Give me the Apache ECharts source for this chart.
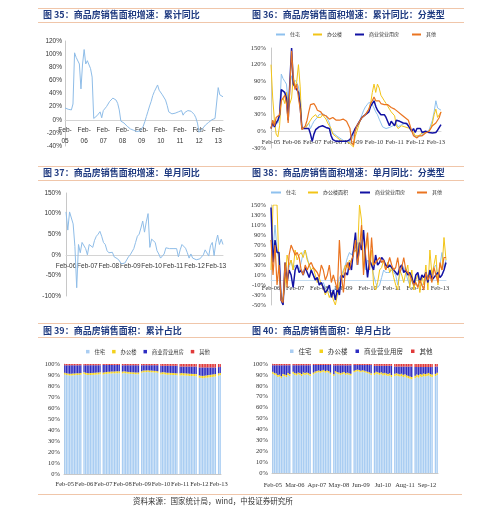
<!DOCTYPE html>
<html>
<head>
<meta charset="utf-8">
<script src="https://cdn.jsdelivr.net/npm/echarts@6/dist/echarts.min.js"></script>
<style>
  html, body { margin: 0; padding: 0; background: #fff; }
  #main { width: 499px; height: 514px; }
</style>
</head>
<body>
<div id="main"></div>
<script>
// month labels like 'Feb-05'
var MON = ['Jan','Feb','Mar','Apr','May','Jun','Jul','Aug','Sep','Oct','Nov','Dec'];
function months(year, month, count) {
  var out = [];
  for (var i = 0; i < count; i++) {
    var k = month - 1 + i;
    var y = (year + Math.floor(k / 12)) % 100;
    out.push(MON[k % 12] + '-' + (y < 10 ? '0' + y : y));
  }
  return out;
}
var cats35 = months(2005, 2, 100);
var cats36 = months(2005, 2, 100);
var cats37 = months(2006, 2, 89);
var cats38 = months(2006, 2, 88);
var cats39 = months(2005, 2, 98);
var cats40 = months(2005, 2, 98);

// 图35 累计同比 (%)
var total35 = [
  18, 21, 16, 14, 15, 24, 102, 95, 92, 85, 47, 85,
  107, 85, 90, 88, 78, 65, 2, 3, 6, 9, 12, 3,
  14, 17, 20, 24, 28, 31, 33, 32, 30, 25, 15, -2,
  -3, -5, -8, -10, -12, -14, -15, -16, -17, -18, -18, -17,
  -15, -10, -3, 5, 13, 21, 28, 37, 43, 46, 53, 45,
  42, 38, 35, 30, 22, 12, 9, 9, 10, 10, 11, 12,
  13, 14, 7, 11, 13, 14, 14, 13, 10, 8, 3, -5,
  -19, -16, -14, -11, -8, -6, -4, -2, 0, 1, 2, 3,
  49, 38, 36, 35
];

// 图36 累计同比 分类型 (%)
var res36 = [
  6, 20, 15, 14, 15, 30, 103, 95, 90, 85, 50, 85,
  100, 85, 92, 88, 80, 60, 3, 5, 8, 10, 15, 5,
  12, 18, 20, 25, 30, 33, 32, 30, 28, 25, 15, 0,
  -3, -5, -8, -10, -12, -14, -16, -18, -19, -20, -18, -15,
  -12, 0, 8, 15, 22, 30, 38, 44, 48, 52, 55, 48,
  42, 35, 30, 22, 15, 8, 5, 5, 6, 7, 8, 10,
  12, 14, 8, 10, 12, 14, 14, 12, 10, 6, 0, -5,
  -10, -12, -10, -8, -6, -4, -2, 0, 2, 5, 20, 35,
  55, 42, 40, 38
];
var off36 = [
  120, 60, 20, -5, -10, 10, 55, 60, 50, 70, 40, 50,
  60, 100, 80, 90, 120, 80, 5, 2, 5, 8, 15, 20,
  25, 28, 30, 25, 22, 25, 30, 28, 22, 15, 12, 5,
  -5, -8, -10, -12, -15, -15, -18, -20, -18, -20, -22, -25,
  -28, -10, 0, 10, 20, 25, 28, 30, 32, 40, 50, 70,
  85, 70, 85, 78, 65, 60, 55, 50, 45, 40, 35, 32,
  28, 10, 5, 8, 10, 12, 8, 5, 6, 4, 2, -2,
  -8, -10, -8, -5, -3, -4, -2, -3, 0, 5, 15, 30,
  40, 25, 30, 35
];
var com36 = [
  5, 15, 8, 15, 20, 30, 75, 72, 70, 60, 20, 90,
  150, 85, 80, 75, 70, 45, 5, 3, 5, 8, 5, -5,
  -18, -5, 3, 5, 8, 10, 10, 8, 7, 5, 5, -8,
  -15, -18, -18, -16, -18, -20, -18, -17, -18, -20, -15, -8,
  -2, 5, 10, 15, 20, 25, 28, 30, 32, 35, 45, 50,
  55, 45, 38, 35, 30, 28, 30, 25, 22, 10, 18, 15,
  10, 20, 18, 18, 17, 15, 12, 14, 10, 5, 0, 5,
  -2, 5, 3, 5, -2, -3, 0, -3, -2, 0, -3, 0,
  -2, 2, 5, 12
];
var oth36 = [
  5, 20, 10, 25, 25, 30, 55, 60, 65, 50, 15, 80,
  145, 95, 75, 85, 60, 40, 3, 5, 10, 20, 35, 48,
  50, 50, 45, 38, 35, 35, 30, 28, 28, 25, 22, 20,
  25, 22, 20, 18, 20, 18, 22, 20, 18, 15, 5, -20,
  -25, 0, 10, 15, 20, 25, 28, 30, 35, 40, 50, 55,
  62, 55, 58, 55, 50, 50, 48, 45, 48, 45, 43, 40,
  40, 38, 35, 35, 30, 30, 25, 22, 20, 10, 0, -8,
  -10, -12, -8, -5, -8, -5, -3, -2, 0, 5, 10, 12,
  15, 20, 25, 35
];

// 图37 单月同比 (%)
var total37 = [
  104, 60, 104, 100, 75, 20, -80, 25, 5, 30, 28, 15,
  0, 25, 22, 18, 35, 45, 50, 57, 45, 30, 25, 10,
  5, 2, 6, -5, -3, -10, -15, -22, -25, -20, -18, -5,
  0, 3, 15, 30, 45, 50, 65, 82, 55, 80, 100, 18,
  38, 35, 30, 10, 2, -8, -12, 2, 17, 16, 15, 15,
  15, 14, 15, -5, 12, 25, 22, 16, 5, -8, 2, -8,
  -12, -12, -12, -10, -8, 0, 12, 10, -3, 22, 30, -2,
  30, 48, 25, 38, 25
];

// 图38 单月同比 分类型 (%)
var res38 = [
  80, 60, 110, 60, 40, -30, -45, 20, 5, 25, 40, 20,
  30, 25, 20, 35, 55, 60, 45, 30, 20, 10, 5, 0,
  -5, -10, -5, -15, -20, -25, -20, -25, -15, -10, 5, 10,
  20, 30, 45, 55, 50, 60, 65, 75, 60, 80, 100, 20,
  40, 35, 30, 10, -5, -15, -10, 5, 20, 15, 15, 15,
  20, 15, 10, -10, 10, 30, 25, 15, 0, -10, 0, -5,
  -10, -10, -12, -10, -5, 0, 10, 15, 0, 25, 30, 5,
  30, 55, 25, 40
];
var off38 = [
  20, 150, 150, 150, 20, -30, -40, -10, 50, 30, 40, 20,
  60, 40, 50, 55, 45, 60, 40, 30, 20, 25, 10, -5,
  5, -10, -15, -30, -20, -35, -25, -40, -50, -30, -5, 0,
  15, 30, 25, 40, 35, 55, 60, 50, 150, 120, 20, 60,
  85, 30, 60, -10, -20, -5, 20, 25, 40, 20, 35, 15,
  25, 5, -10, -20, 20, 10, -5, 15, 30, -15, 20, -20,
  0, 10, -25, 10, -10, 30, -20, 60, 10, 30, 50, -10,
  30, 20, 85, 40
];
var com38 = [
  145, 35, 80, 55, 55, -40, -50, 35, -5, 20, 10, -15,
  20, 30, 15, 20, 10, 25, 15, 5, 20, 10, 0, 5,
  -10, -5, -15, -25, -20, -10, -35, -20, -40, -15, -30, 10,
  5, 15, 10, 35, 20, 60, 95, 30, 75, 60, 100, 45,
  5, 40, 30, 20, 50, 30, 35, 45, 40, 30, 25, 30,
  25, 20, 15, 10, 25, 30, 15, 20, 10, 15, 5, -10,
  10, 15, -5, 10, 5, 15, -5, 20, 0, 5, 10, 15,
  5, 10, 20, 35
];
var oth38 = [
  80, 10, 70, -10, 30, -40, -45, 35, -15, 50, 70, 60,
  50, 55, 45, 20, 10, 30, 20, 30, 35, 25, 20, 15,
  5, 30, 20, 0, 10, 30, -5, 10, -5, -20, 80, 10,
  -25, 20, 35, 20, 40, 50, 80, 30, 60, 110, 10, 65,
  95, 20, 85, 30, 35, 40, 45, 35, 40, 20, 30, 45,
  30, 20, 25, 45, 15, 25, 45, 20, 15, 10, 0, -10,
  -5, -15, 0, -10, -20, 15, 0, 10, -5, 25, 10, -5,
  35, 20, 45, 45
];

// 图39 累计占比 (%), January has no data
var res39 = [
  90.5, 90.0, 89.8, 89.6, 89.6, 89.7, 89.8, 89.9, 90.0, 90.1, 90.3, null,
  90.8, 90.3, 90.0, 89.9, 90.0, 90.1, 90.2, 90.3, 90.4, 90.5, 90.6, null,
  90.5, 90.8, 91.0, 91.2, 91.3, 91.4, 91.5, 91.5, 91.6, 91.6, 91.7, null,
  91.5, 91.8, 91.5, 91.3, 91.2, 91.0, 90.9, 90.8, 90.7, 90.7, 90.7, null,
  92.0, 92.5, 92.6, 92.7, 92.8, 92.6, 92.5, 92.4, 92.3, 92.2, 92.0, null,
  90.5, 90.8, 90.6, 90.5, 90.3, 90.2, 90.1, 90.0, 90.0, 89.9, 89.8, null,
  89.5, 89.8, 89.6, 89.5, 89.4, 89.3, 89.2, 89.1, 89.0, 89.0, 88.9, null,
  87.5, 87.2, 87.0, 87.2, 87.4, 87.6, 87.8, 88.0, 88.2, 88.4, 88.6, null,
  89.5, 89.8
];
var off39 = [
  1.6, 1.6, 1.6, 1.6, 1.6, 1.6, 1.6, 1.6, 1.6, 1.6, 1.6, null,
  1.8, 1.8, 1.8, 1.8, 1.8, 1.8, 1.8, 1.8, 1.8, 1.8, 1.8, null,
  1.7, 1.7, 1.7, 1.7, 1.7, 1.7, 1.7, 1.7, 1.7, 1.7, 1.7, null,
  1.6, 1.6, 1.6, 1.6, 1.6, 1.6, 1.6, 1.6, 1.6, 1.6, 1.6, null,
  1.5, 1.5, 1.5, 1.5, 1.5, 1.5, 1.5, 1.5, 1.5, 1.5, 1.5, null,
  1.8, 1.8, 1.8, 1.8, 1.8, 1.8, 1.8, 1.8, 1.8, 1.8, 1.8, null,
  2.0, 2.0, 2.0, 2.0, 2.0, 2.0, 2.0, 2.0, 2.0, 2.0, 2.0, null,
  2.2, 2.2, 2.2, 2.2, 2.2, 2.2, 2.2, 2.2, 2.2, 2.2, 2.2, null,
  2.0, 2.0
];
var com39 = [
  6.8, 7.2, 7.4, 7.6, 7.6, 7.5, 7.4, 7.3, 7.2, 7.1, 6.9, null,
  6.3, 6.8, 7.1, 7.2, 7.1, 7.0, 6.9, 6.8, 6.7, 6.6, 6.5, null,
  6.8, 6.5, 6.3, 6.1, 6.0, 5.9, 5.8, 5.8, 5.7, 5.7, 5.6, null,
  5.7, 5.4, 5.7, 5.9, 6.0, 6.2, 6.3, 6.4, 6.5, 6.5, 6.5, null,
  5.4, 4.9, 4.8, 4.7, 4.6, 4.8, 4.9, 5.0, 5.1, 5.2, 5.4, null,
  6.0, 5.7, 5.9, 6.0, 6.2, 6.3, 6.4, 6.5, 6.5, 6.6, 6.7, null,
  6.2, 5.9, 6.1, 6.2, 6.3, 6.4, 6.5, 6.6, 6.7, 6.7, 6.8, null,
  7.2, 7.5, 7.7, 7.5, 7.3, 7.1, 6.9, 6.7, 6.5, 6.3, 6.1, null,
  5.7, 5.4
];
var oth39 = [
  1.3, 1.3, 1.3, 1.3, 1.3, 1.3, 1.3, 1.3, 1.3, 1.3, 1.3, null,
  1.2, 1.2, 1.2, 1.2, 1.2, 1.2, 1.2, 1.2, 1.2, 1.2, 1.2, null,
  1.1, 1.1, 1.1, 1.1, 1.1, 1.1, 1.1, 1.1, 1.1, 1.1, 1.1, null,
  1.3, 1.3, 1.3, 1.3, 1.3, 1.3, 1.3, 1.3, 1.3, 1.3, 1.3, null,
  1.2, 1.2, 1.2, 1.2, 1.2, 1.2, 1.2, 1.2, 1.2, 1.2, 1.2, null,
  1.8, 1.8, 1.8, 1.8, 1.8, 1.8, 1.8, 1.8, 1.8, 1.8, 1.8, null,
  2.4, 2.4, 2.4, 2.4, 2.4, 2.4, 2.4, 2.4, 2.4, 2.4, 2.4, null,
  3.2, 3.2, 3.2, 3.2, 3.2, 3.2, 3.2, 3.2, 3.2, 3.2, 3.2, null,
  2.9, 2.9
];

// 图40 单月占比 (%)
var res40 = [
  91.0, 90.0, 89.5, 88.0, 88.5, 87.0, 89.0, 88.5, 88.0, 90.0, 89.0, null,
  91.0, 90.0, 89.5, 90.5, 90.0, 89.0, 90.5, 90.0, 90.5, 90.0, 89.0, null,
  90.5, 91.5, 92.0, 92.5, 92.0, 92.5, 93.0, 92.0, 92.5, 92.0, 90.5, null,
  89.0, 92.0, 91.0, 90.5, 90.0, 90.5, 91.0, 90.0, 90.5, 90.0, 89.5, null,
  92.5, 93.0, 93.5, 93.0, 92.5, 93.0, 92.5, 92.0, 91.5, 91.0, 90.0, null,
  90.0, 91.0, 90.5, 90.0, 90.5, 89.5, 90.0, 89.5, 89.0, 89.5, 88.0, null,
  89.0, 89.5, 89.0, 88.5, 89.0, 88.0, 88.5, 87.5, 87.0, 86.5, 86.0, null,
  87.0, 88.0, 87.5, 88.5, 88.0, 89.0, 88.5, 89.0, 89.5, 88.5, 88.0, null,
  89.0, 90.0
];
var off40 = [
  1.8, 1.8, 1.8, 1.8, 1.8, 1.8, 1.8, 1.8, 1.8, 1.8, 1.8, null,
  1.8, 1.8, 1.8, 1.8, 1.8, 1.8, 1.8, 1.8, 1.8, 1.8, 1.8, null,
  1.6, 1.6, 1.6, 1.6, 1.6, 1.6, 1.6, 1.6, 1.6, 1.6, 1.6, null,
  1.6, 1.6, 1.6, 1.6, 1.6, 1.6, 1.6, 1.6, 1.6, 1.6, 1.6, null,
  1.4, 1.4, 1.4, 1.4, 1.4, 1.4, 1.4, 1.4, 1.4, 1.4, 1.4, null,
  1.9, 1.9, 1.9, 1.9, 1.9, 1.9, 1.9, 1.9, 1.9, 1.9, 1.9, null,
  2.1, 2.1, 2.1, 2.1, 2.1, 2.1, 2.1, 2.1, 2.1, 2.1, 2.1, null,
  2.3, 2.3, 2.3, 2.3, 2.3, 2.3, 2.3, 2.3, 2.3, 2.3, 2.3, null,
  2.0, 2.0
];
var com40 = [
  6.0, 7.0, 7.5, 9.0, 8.5, 10.0, 8.0, 8.5, 9.0, 7.0, 8.0, null,
  6.1, 7.1, 7.6, 6.6, 7.1, 8.1, 6.6, 7.1, 6.6, 7.1, 8.1, null,
  7.0, 6.0, 5.5, 5.0, 5.5, 5.0, 4.5, 5.5, 5.0, 5.5, 7.0, null,
  8.2, 5.2, 6.2, 6.7, 7.2, 6.7, 6.2, 7.2, 6.7, 7.2, 7.7, null,
  5.1, 4.6, 4.1, 4.6, 5.1, 4.6, 5.1, 5.6, 6.1, 6.6, 7.6, null,
  6.4, 5.4, 5.9, 6.4, 5.9, 6.9, 6.4, 6.9, 7.4, 6.9, 8.4, null,
  6.5, 6.0, 6.5, 7.0, 6.5, 7.5, 7.0, 8.0, 8.5, 9.0, 9.5, null,
  7.9, 6.9, 7.4, 6.4, 6.9, 5.9, 6.4, 5.9, 5.4, 6.4, 6.9, null,
  6.6, 5.6
];
var oth40 = [
  1.4, 1.4, 1.4, 1.4, 1.4, 1.4, 1.4, 1.4, 1.4, 1.4, 1.4, null,
  1.3, 1.3, 1.3, 1.3, 1.3, 1.3, 1.3, 1.3, 1.3, 1.3, 1.3, null,
  1.1, 1.1, 1.1, 1.1, 1.1, 1.1, 1.1, 1.1, 1.1, 1.1, 1.1, null,
  1.4, 1.4, 1.4, 1.4, 1.4, 1.4, 1.4, 1.4, 1.4, 1.4, 1.4, null,
  1.2, 1.2, 1.2, 1.2, 1.2, 1.2, 1.2, 1.2, 1.2, 1.2, 1.2, null,
  1.9, 1.9, 1.9, 1.9, 1.9, 1.9, 1.9, 1.9, 1.9, 1.9, 1.9, null,
  2.6, 2.6, 2.6, 2.6, 2.6, 2.6, 2.6, 2.6, 2.6, 2.6, 2.6, null,
  3.0, 3.0, 3.0, 3.0, 3.0, 3.0, 3.0, 3.0, 3.0, 3.0, 3.0, null,
  2.6, 2.6
];

var titles = [
  '图 35：商品房销售面积增速：累计同比',
  '图 36：商品房销售面积增速：累计同比：分类型',
  '图 37：商品房销售面积增速：单月同比',
  '图 38：商品房销售面积增速：单月同比：分类型',
  '图 39：商品房销售面积：累计占比',
  '图 40：商品房销售面积：单月占比'
];
var source = '资料来源：国家统计局，wind，中投证券研究所';

var C_LINE = '#8fbde8';
var C_RES = '#8ec1ee', C_OFF = '#f2c417', C_COM = '#1212a3', C_OTH = '#ea7421';
var B_RES = '#a9cdf2', B_OFF = '#f3d11c', B_COM = '#2d2dc2', B_OTH = '#e03a3a';
var SANS = 'Liberation Sans', SERIF = 'Liberation Serif', CJK = 'Noto Sans CJK SC';
var RULE = '#f0c6aa';

var grids = [
  { left: 65, top: 41, width: 158, height: 105 },
  { left: 271, top: 48, width: 170, height: 100 },
  { left: 66, top: 193, width: 157, height: 103 },
  { left: 271, top: 205, width: 175, height: 100 },
  { left: 64, top: 364, width: 157, height: 110 },
  { left: 272, top: 364, width: 166, height: 109 }
];
// y ranges [min, max, interval]
var yRanges = [[-40, 120, 20], [-30, 150, 30], [-100, 150, 50], [-50, 150, 20], [0, 100, 10], [0, 100, 10]];

function xCat(grid, data, font, interval, margin, gap, lineColor) {
  // put the category axis on the 0% line of its grid
  var r = yRanges[grid];
  var lift = grids[grid].height * (0 - r[0]) / (r[1] - r[0]);
  return {
    type: 'category', gridIndex: grid, data: data, boundaryGap: gap,
    position: 'bottom', offset: -lift,
    axisLine: { onZero: false, lineStyle: { color: lineColor, width: 1 } },
    axisTick: { show: false },
    axisLabel: { interval: interval, fontSize: 6.5, fontFamily: font, color: '#333', margin: margin }
  };
}
function yVal(grid, font, margin) {
  var r = yRanges[grid];
  return {
    type: 'value', gridIndex: grid, min: r[0], max: r[1], interval: r[2],
    splitLine: { show: false },
    axisLine: { show: true, lineStyle: { color: '#c8c8c8' } },
    axisTick: { show: false },
    axisLabel: { formatter: '{value}%', fontSize: 6.5, fontFamily: font, color: '#333', margin: margin }
  };
}
function line(name, x, data, color, width) {
  return {
    name: name, type: 'line', xAxisIndex: x, yAxisIndex: x, data: data,
    symbol: 'none', lineStyle: { color: color, width: width }, itemStyle: { color: color }
  };
}
function bar(name, x, data, color, stack) {
  return {
    name: name, type: 'bar', xAxisIndex: x, yAxisIndex: x, data: data, stack: stack,
    barCategoryGap: '18%', itemStyle: { color: color }
  };
}
function lineLegend(left, top, gap, w, names, colors) {
  return {
    left: left, top: top, padding: 0, icon: 'rect', itemWidth: w, itemHeight: 2,
    itemGap: gap, itemTextGap: 2,
    textStyle: { fontSize: 5, fontFamily: CJK, color: '#333' },
    data: names.map(function (n, i) { return { name: n, itemStyle: { color: colors[i] } }; })
  };
}
function barLegend(left, top, size, gap, names, colors) {
  return {
    left: left, top: top, padding: 0, icon: 'rect', itemWidth: 3.5, itemHeight: 3.5,
    itemGap: gap, itemTextGap: 1.5,
    textStyle: { fontSize: size, fontFamily: CJK, color: '#333' },
    data: names.map(function (n, i) { return { name: n, itemStyle: { color: colors[i] } }; })
  };
}
function rule(y, x1, x2) {
  return { type: 'line', shape: { x1: x1, y1: y + 0.5, x2: x2, y2: y + 0.5 },
           style: { stroke: RULE, lineWidth: 1 }, silent: true };
}

var titlePos = [[43, 10], [252, 10], [43, 168], [252, 168], [43, 326], [252, 326]];

var chart = echarts.init(document.getElementById('main'));
var option = {
  animation: false,
  backgroundColor: '#fff',
  title: titles.map(function (t, i) {
    return { text: t, left: titlePos[i][0], top: titlePos[i][1], padding: 0,
             textStyle: { fontSize: 9, fontWeight: 'bold', color: '#1f3a80', fontFamily: CJK } };
  }),
  legend: [
    lineLegend(276, 32, 13, 9, ['住宅', '办公楼', '商业营业用房', '其他'], [C_RES, C_OFF, C_COM, C_OTH]),
    lineLegend(271, 190, 12, 10, ['住宅', '办公楼面积', '商业营业用房', '其他'], [C_RES, C_OFF, C_COM, C_OTH]),
    barLegend(86, 349, 5.3, 7, ['住宅', '办公楼', '商业营业用房', '其他'], [B_RES, B_OFF, B_COM, B_OTH]),
    barLegend(290, 348, 6.5, 8, ['住宅', '办公楼', '商业营业用房', '其他'], [B_RES, B_OFF, B_COM, B_OTH])
  ],
  grid: grids,
  xAxis: [
    (function () {
      var a = xCat(0, cats35, SANS, 11, 5, false, '#d4d4d4');
      a.axisLabel.lineHeight = 11;
      a.axisLabel.formatter = function (v) { return v.replace('-', '-\n'); };
      return a;
    })(),
    xCat(1, cats36, SERIF, 11, 7, false, '#d9d9d9'),
    xCat(2, cats37, SANS, 11, 8, false, '#d4d4d4'),
    xCat(3, cats38, SERIF, 11, 4.5, false, '#c5dcf0'),
    xCat(4, cats39, SERIF, 11, 7, true, '#c8c8c8'),
    xCat(5, cats40, SERIF, 12, 8.5, true, '#c8c8c8')
  ],
  yAxis: [
    yVal(0, SANS, 3),
    yVal(1, SERIF, 5),
    yVal(2, SANS, 5),
    yVal(3, SERIF, 5),
    yVal(4, SERIF, 4),
    yVal(5, SERIF, 4)
  ],
  series: [
    line('累计同比', 0, total35, C_LINE, 1),
    line('住宅', 1, res36, C_RES, 1),
    line('办公楼', 1, off36, C_OFF, 1),
    line('商业营业用房', 1, com36, C_COM, 1.5),
    line('其他', 1, oth36, C_OTH, 1.2),
    line('单月同比', 2, total37, C_LINE, 1),
    line('住宅', 3, res38, C_RES, 1),
    line('办公楼面积', 3, off38, C_OFF, 1),
    line('商业营业用房', 3, com38, C_COM, 1.5),
    line('其他', 3, oth38, C_OTH, 1.2),
    bar('住宅', 4, res39, B_RES, 'a'),
    bar('办公楼', 4, off39, B_OFF, 'a'),
    bar('商业营业用房', 4, com39, B_COM, 'a'),
    bar('其他', 4, oth39, B_OTH, 'a'),
    bar('住宅', 5, res40, B_RES, 'b'),
    bar('办公楼', 5, off40, B_OFF, 'b'),
    bar('商业营业用房', 5, com40, B_COM, 'b'),
    bar('其他', 5, oth40, B_OTH, 'b')
  ],
  graphic: [
    rule(8, 38, 464), rule(22, 38, 464),
    rule(166, 38, 464), rule(180, 38, 464),
    rule(323, 38, 464), rule(337, 38, 464),
    rule(494, 38, 462),
    { type: 'text', left: 133, top: 497, silent: true,
      style: { text: source, fontSize: 7.5, fontFamily: CJK, fill: '#333' } }
  ]
};
chart.setOption(option);
</script>
</body>
</html>
